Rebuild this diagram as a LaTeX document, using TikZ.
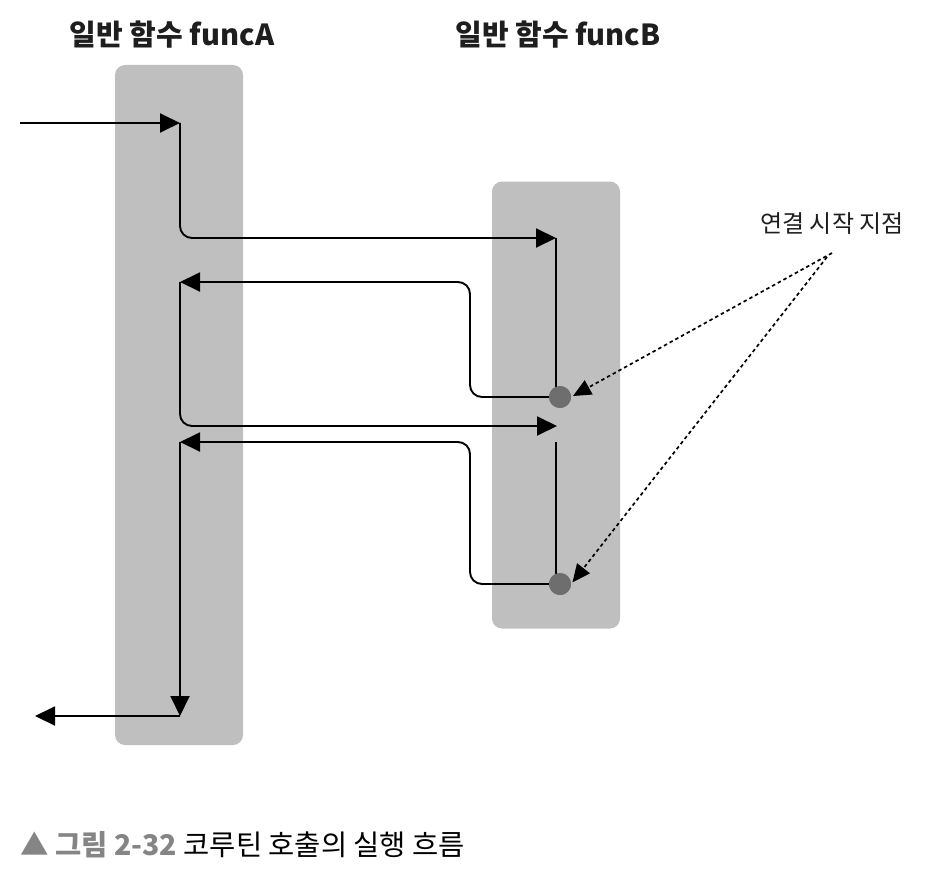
\documentclass[tikz,border=0pt]{standalone}
\usepackage{fontspec}
\setmainfont{Noto Sans CJK KR}
\usetikzlibrary{arrows.meta,positioning,calc}
\definecolor{barfill}{HTML}{BFBFBF}
\definecolor{dotgray}{HTML}{6E6E6E}
\definecolor{capgray}{HTML}{858585}
\definecolor{ink}{HTML}{1E1E1E}
\tikzset{
bar/.style={fill=barfill,rounded corners=10pt,inner sep=0pt,minimum width=128pt},
title/.style={font=\fontsize{29}{32}\selectfont\bfseries,text=ink,inner sep=0pt},
note/.style={font=\fontsize{24}{28}\selectfont,text=ink,inner sep=0pt},
flow/.style={-{Triangle[length=20pt,width=19pt]},line width=1.9pt,draw=black,rounded corners=12pt},
plain/.style={line width=1.9pt,draw=black},
resume/.style={circle,fill=dotgray,minimum size=22pt,inner sep=0pt},
pointer/.style={-{Triangle[length=18pt,width=16pt]},line width=1.7pt,dash pattern=on 3.5pt off 3pt,draw=black,shorten >=2pt}}
\begin{document}
\begin{tikzpicture}[x=1pt,y=-1pt]
\useasboundingbox (0,0) rectangle (947,888);
% function bodies
\node[bar,minimum height=680pt] (barA) at (179,405) {};
\node[bar,minimum height=447pt] (barB) at (556,405) {};
\node[title] (titleA) at (172,35) {일반 함수 funcA};
\node[title] (titleB) at (558,35) {일반 함수 funcB};
% turning points of the flow
\coordinate (entry) at (20,123);
\coordinate (inA) at (180,123);
\coordinate (callB1) at (556,238);
\coordinate (turn1) at (470,282);
\coordinate (back1) at (180,282);
\coordinate (callB2) at (557,426);
\coordinate (resB2) at (556,442);
\coordinate (turn2) at (470,442);
\coordinate (back2) at (180,442);
\coordinate (endA) at (180,716);
\coordinate (exit) at (35,716);
\node[resume] (dot1) at (560,397) {};
\node[resume] (dot2) at (560,584) {};
\draw[flow] (entry)--(inA);
\draw[flow] (inA) |- (callB1);
\draw[plain] (callB1)--(callB1 |- dot1);
\draw[flow] (dot1.center) -| (turn1)--(back1);
\draw[flow] (back1) |- (callB2);
\draw[plain] (resB2)--(resB2 |- dot2);
\draw[flow] (dot2.center) -| (turn2)--(back2);
\draw[flow] (back2)--(endA);
\draw[flow] (endA)--(exit);
\node[resume] at (dot1) {};
\node[resume] at (dot2) {};
% note on resume points
\node[note] (startnote) at (832,224) {연결 시작 지점};
\coordinate (noteL) at (832,253);
\coordinate (noteR) at (827,257);
\draw[pointer] (noteL)--(dot1.east);
\draw[pointer] (noteR)--(dot2.east);
% caption
\node[anchor=west,inner sep=0pt,font=\fontsize{28.5}{32}\selectfont] (caption) at (20,845)
  {\textcolor{capgray}{\bfseries ▲ 그림 2-32} 코루틴 호출의 실행 흐름};
\end{tikzpicture}
\end{document}
